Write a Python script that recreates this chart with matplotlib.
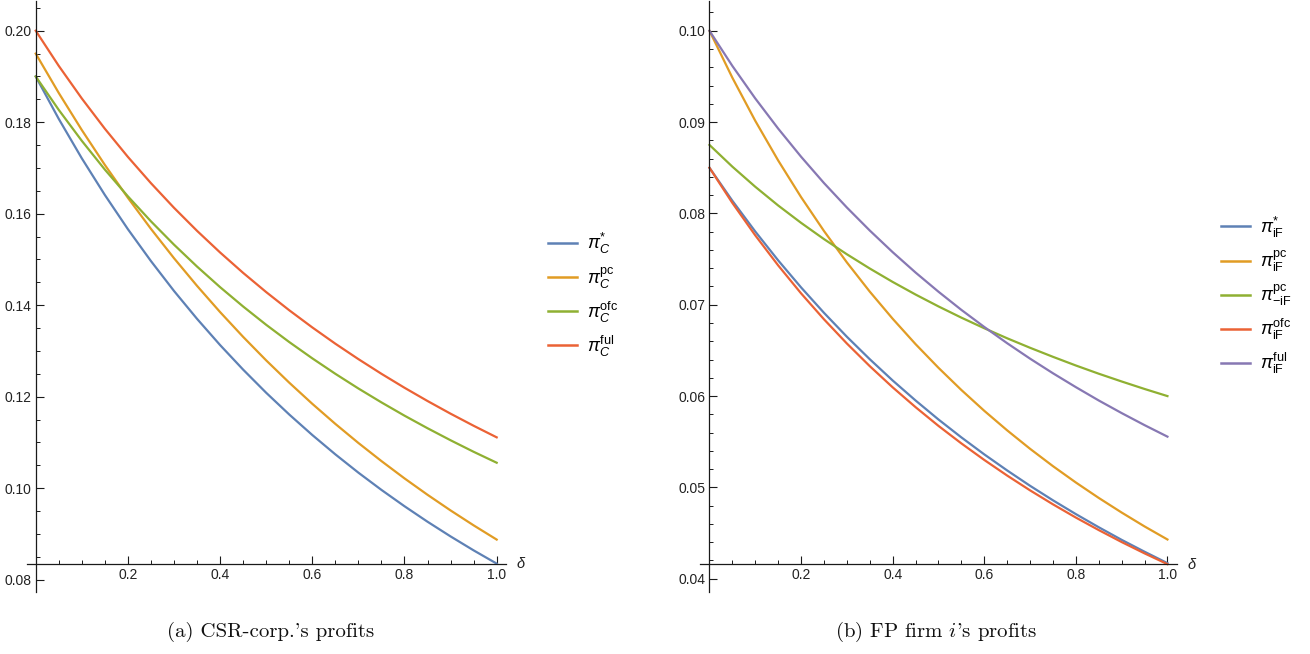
import matplotlib
matplotlib.use("Agg")
import matplotlib.pyplot as plt

# ---------------- data ----------------
delta = [0.00, 0.05, 0.10, 0.15, 0.20, 0.25, 0.30, 0.35, 0.40, 0.45, 0.50,
         0.55, 0.60, 0.65, 0.70, 0.75, 0.80, 0.85, 0.90, 0.95, 1.00]

# (a) CSR-corp.'s profits
csr_star = [0.19000, 0.18072, 0.17210, 0.16409, 0.15661, 0.14964, 0.14311, 0.13701,
            0.13128, 0.12591, 0.12085, 0.11610, 0.11162, 0.10739, 0.10339, 0.09962,
            0.09605, 0.09266, 0.08945, 0.08640, 0.08351]
csr_pc = [0.19500, 0.18639, 0.17829, 0.17066, 0.16347, 0.15668, 0.15027, 0.14422,
          0.13849, 0.13307, 0.12793, 0.12306, 0.11844, 0.11405, 0.10988, 0.10592,
          0.10214, 0.09855, 0.09513, 0.09187, 0.08876]
csr_ofc = [0.19000, 0.18269, 0.17593, 0.16964, 0.16379, 0.15833, 0.15323, 0.14844,
           0.14394, 0.13971, 0.13571, 0.13194, 0.12838, 0.12500, 0.12179, 0.11875,
           0.11585, 0.11310, 0.11047, 0.10795, 0.10556]
csr_ful = [0.20000, 0.19231, 0.18519, 0.17857, 0.17241, 0.16667, 0.16129, 0.15625,
           0.15152, 0.14706, 0.14286, 0.13889, 0.13514, 0.13158, 0.12821, 0.12500,
           0.12195, 0.11905, 0.11628, 0.11364, 0.11111]
csr_labels = [r"$\pi_{C}^{*}$", r"$\pi_{C}^{\mathrm{pc}}$",
              r"$\pi_{C}^{\mathrm{ofc}}$", r"$\pi_{C}^{\mathrm{ful}}$"]

# (b) FP firm i's profits
fp_star = [0.08500, 0.08139, 0.07802, 0.07486, 0.07190, 0.06912, 0.06650, 0.06404,
           0.06171, 0.05952, 0.05744, 0.05548, 0.05362, 0.05186, 0.05018, 0.04859,
           0.04708, 0.04564, 0.04426, 0.04296, 0.04171]
fp_pc = [0.10000, 0.09486, 0.09014, 0.08580, 0.08179, 0.07808, 0.07464, 0.07144,
         0.06847, 0.06569, 0.06310, 0.06067, 0.05839, 0.05625, 0.05423, 0.05233,
         0.05054, 0.04885, 0.04725, 0.04573, 0.04430]
fp_pc_other = [0.08750, 0.08512, 0.08292, 0.08087, 0.07897, 0.07719, 0.07553, 0.07397,
               0.07250, 0.07112, 0.06982, 0.06859, 0.06743, 0.06633, 0.06529, 0.06430,
               0.06335, 0.06245, 0.06160, 0.06078, 0.06000]
fp_ofc = [0.08500, 0.08115, 0.07760, 0.07431, 0.07125, 0.06841, 0.06576, 0.06328,
          0.06096, 0.05879, 0.05674, 0.05482, 0.05301, 0.05130, 0.04968, 0.04815,
          0.04670, 0.04533, 0.04402, 0.04278, 0.04160]
fp_ful = [0.10000, 0.09615, 0.09259, 0.08929, 0.08621, 0.08333, 0.08065, 0.07813,
          0.07576, 0.07353, 0.07143, 0.06944, 0.06757, 0.06579, 0.06410, 0.06250,
          0.06098, 0.05952, 0.05814, 0.05682, 0.05556]
fp_labels = [r"$\pi_{\mathrm{iF}}^{*}$", r"$\pi_{\mathrm{iF}}^{\mathrm{pc}}$",
             r"$\pi_{-\mathrm{iF}}^{\mathrm{pc}}$", r"$\pi_{\mathrm{iF}}^{\mathrm{ofc}}$",
             r"$\pi_{\mathrm{iF}}^{\mathrm{ful}}$"]

x_major = [0.2, 0.4, 0.6, 0.8, 1.0]
x_major_labels = ["0.2", "0.4", "0.6", "0.8", "1.0"]
x_minor = [0.05, 0.10, 0.15, 0.25, 0.30, 0.35, 0.45, 0.50, 0.55, 0.65, 0.70, 0.75,
           0.85, 0.90, 0.95]
yL_major = [0.08, 0.10, 0.12, 0.14, 0.16, 0.18, 0.20]
yL_major_labels = ["0.08", "0.10", "0.12", "0.14", "0.16", "0.18", "0.20"]
yL_minor = [0.085, 0.09, 0.095, 0.105, 0.11, 0.115, 0.125, 0.13, 0.135, 0.145, 0.15,
            0.155, 0.165, 0.17, 0.175, 0.185, 0.19, 0.195, 0.205]
yR_major = [0.04, 0.05, 0.06, 0.07, 0.08, 0.09, 0.10]
yR_major_labels = ["0.04", "0.05", "0.06", "0.07", "0.08", "0.09", "0.10"]
yR_minor = [0.042, 0.044, 0.046, 0.048, 0.052, 0.054, 0.056, 0.058, 0.062, 0.064,
            0.066, 0.068, 0.072, 0.074, 0.076, 0.078, 0.082, 0.084, 0.086, 0.088,
            0.092, 0.094, 0.096, 0.098, 0.102]

captions = ["(a) CSR-corp.'s profits", "(b) FP firm $i$'s profits"]

# ---------------- style ----------------
BLUE, ORANGE, GREEN, RED, PURPLE = "#5E81B5", "#E19C24", "#8FB032", "#EB6235", "#8778B3"

plt.rcParams["font.family"] = ["Liberation Sans", "DejaVu Sans"]
plt.rcParams["mathtext.fontset"] = "custom"
plt.rcParams["mathtext.rm"] = "Liberation Sans"
plt.rcParams["mathtext.it"] = "Liberation Sans:italic"
plt.rcParams["mathtext.bf"] = "Liberation Sans:bold"
plt.rcParams["mathtext.sf"] = "Liberation Sans"

fig = plt.figure(figsize=(13.1, 6.54), dpi=100)
axL = fig.add_axes([0.02023, 0.0948, 0.36595, 0.9037])
axR = fig.add_axes([0.53458, 0.0948, 0.36359, 0.9037])

AXCOL = "#1a1a1a"


def style_axes(ax, ylim, xmin_line, ymaj, ymaj_lab, ymin):
    ax.set_xlim(-0.02, 1.02)
    ax.set_ylim(*ylim)
    ax.spines["top"].set_visible(False)
    ax.spines["right"].set_visible(False)
    ax.spines["left"].set_position(("data", 0))
    ax.spines["bottom"].set_position(("data", xmin_line))
    for s in ("left", "bottom"):
        ax.spines[s].set_linewidth(0.9)
        ax.spines[s].set_color(AXCOL)
    ax.set_xticks(x_major)
    ax.set_xticklabels(x_major_labels)
    ax.set_xticks(x_minor, minor=True)
    ax.set_yticks(ymaj)
    ax.set_yticklabels(ymaj_lab)
    ax.set_yticks(ymin, minor=True)
    ax.tick_params(which="major", direction="in", length=5.5, width=0.8,
                   color=AXCOL, labelsize=10, labelcolor="#222222", pad=3)
    ax.tick_params(which="minor", direction="in", length=3.2, width=0.7, color=AXCOL)
    ax.patch.set_alpha(0)
    ax.text(1.054, xmin_line, r"$\delta$", ha="center", va="center", fontsize=10.5,
            color="#222222", clip_on=False)


lw = 1.6
axL.plot(delta, csr_star, color=BLUE, lw=lw, label=csr_labels[0], clip_on=False)
axL.plot(delta, csr_pc, color=ORANGE, lw=lw, label=csr_labels[1], clip_on=False)
axL.plot(delta, csr_ofc, color=GREEN, lw=lw, label=csr_labels[2], clip_on=False)
axL.plot(delta, csr_ful, color=RED, lw=lw, label=csr_labels[3], clip_on=False)
yminL = min(csr_star + csr_pc + csr_ofc + csr_ful)
style_axes(axL, (0.0773, 0.2065), yminL, yL_major, yL_major_labels, yL_minor)

axR.plot(delta, fp_star, color=BLUE, lw=lw, label=fp_labels[0], clip_on=False)
axR.plot(delta, fp_pc, color=ORANGE, lw=lw, label=fp_labels[1], clip_on=False)
axR.plot(delta, fp_pc_other, color=GREEN, lw=lw, label=fp_labels[2], clip_on=False)
axR.plot(delta, fp_ofc, color=RED, lw=lw, label=fp_labels[3], clip_on=False)
axR.plot(delta, fp_ful, color=PURPLE, lw=lw, label=fp_labels[4], clip_on=False)
yminR = min(fp_star + fp_pc + fp_pc_other + fp_ofc + fp_ful)
style_axes(axR, (0.03855, 0.10326), yminR, yR_major, yR_major_labels, yR_minor)

legkw = dict(frameon=False, fontsize=13, handlelength=1.6, handletextpad=0.55,
             labelspacing=0.5, borderpad=0, borderaxespad=0,
             loc="center left", bbox_transform=fig.transFigure)
legL = axL.legend(bbox_to_anchor=(548 / 1310, 1 - 295 / 654), **legkw)
legR = axR.legend(bbox_to_anchor=(1221 / 1310, 1 - 295.5 / 654), **legkw)
for leg in (legL, legR):
    for h in leg.legend_handles:
        h.set_linewidth(1.8)

for cx, cap in zip([271, 936], captions):
    t = fig.text(cx / 1310, 1 - 632 / 654, cap, ha="center", va="center",
                 fontsize=15, family=["cmr10", "DejaVu Serif"], color="#111111")
    t.set_math_fontfamily("cm")

fig.savefig("out.png", dpi=100)
